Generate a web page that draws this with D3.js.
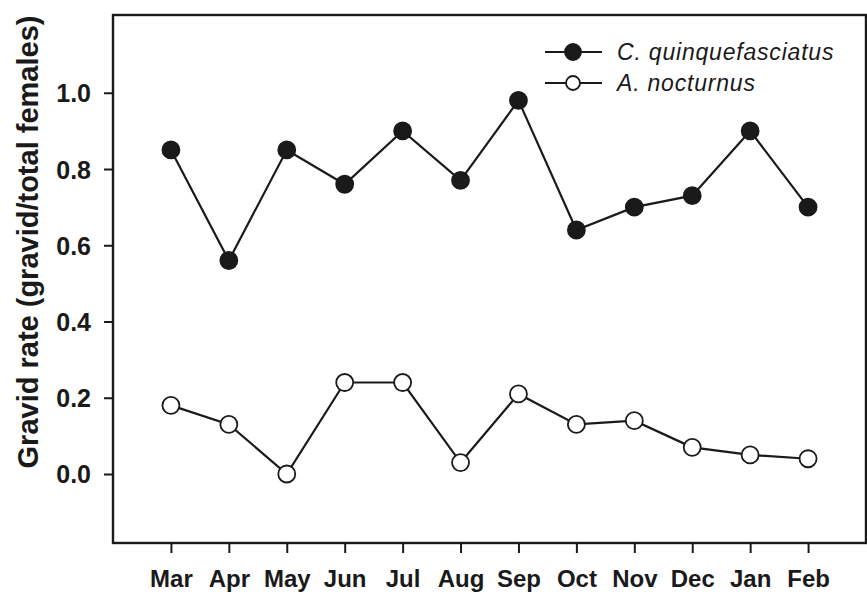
<!DOCTYPE html>
<html>
<head>
<meta charset="utf-8">
<script src="https://cdn.jsdelivr.net/npm/d3@7"></script>
<style>
  body { margin: 0; background: #fff; }
  text { font-family: Arial, "Liberation Sans", sans-serif; fill: #1a1a1a; }
</style>
</head>
<body>
<div id="vis"></div>
<script>
// Data
const MONTHS = ["Mar", "Apr", "May", "Jun", "Jul", "Aug", "Sep", "Oct", "Nov", "Dec", "Jan", "Feb"];
const CULEX = [0.85, 0.56, 0.85, 0.76, 0.90, 0.77, 0.98, 0.64, 0.70, 0.73, 0.90, 0.70];
const ANOPH = [0.18, 0.13, 0.00, 0.24, 0.24, 0.03, 0.21, 0.13, 0.14, 0.07, 0.05, 0.04];
const Y_TICKS = [0.0, 0.2, 0.4, 0.6, 0.8, 1.0];
const SERIES_NAMES = ["C. quinquefasciatus", "A. nocturnus"];

const FRAME_WIDTH = 867;
const FRAME_HEIGHT = 597;
const MARGINS = {left: 113, right: 1, top: 15, bottom: 54};
const VIS_WIDTH = FRAME_WIDTH - MARGINS.left - MARGINS.right;
const VIS_HEIGHT = FRAME_HEIGHT - MARGINS.top - MARGINS.bottom;
const INK = "#1a1a1a";

const svg = d3.select("#vis").append("svg")
  .attr("width", FRAME_WIDTH)
  .attr("height", FRAME_HEIGHT);

const g = svg.append("g")
  .attr("transform", "translate(" + MARGINS.left + "," + MARGINS.top + ")");

// Scales: one month step of padding at each side
const X_SCALE = d3.scaleLinear().domain([-1, MONTHS.length]).range([0, VIS_WIDTH]);
const Y_SCALE = d3.scaleLinear().domain([-0.181, 1.204]).range([VIS_HEIGHT, 0]);

// Frame
g.append("rect")
  .attr("width", VIS_WIDTH)
  .attr("height", VIS_HEIGHT)
  .attr("fill", "none")
  .attr("stroke", INK)
  .attr("stroke-width", 2.4);

// Y axis
const yAxis = g.append("g")
  .call(d3.axisLeft(Y_SCALE).tickValues(Y_TICKS).tickFormat(d3.format(".1f")).tickSize(9).tickPadding(13));
yAxis.select(".domain").remove();
yAxis.selectAll("line").attr("stroke", INK).attr("stroke-width", 2);
yAxis.selectAll("text")
  .attr("font-size", "25px")
  .attr("font-weight", "bold")
  .attr("fill", INK)
  .attr("dy", "0.36em")
  .attr("font-family", "Arial, 'Liberation Sans', sans-serif");

// X axis
const xAxis = g.append("g")
  .attr("transform", "translate(0," + VIS_HEIGHT + ")")
  .call(d3.axisBottom(X_SCALE).tickValues(d3.range(MONTHS.length)).tickFormat((i) => MONTHS[i]).tickSize(10).tickPadding(17));
xAxis.select(".domain").remove();
xAxis.selectAll("line").attr("stroke", INK).attr("stroke-width", 2);
xAxis.selectAll("text")
  .attr("font-size", "24px")
  .attr("font-weight", "bold")
  .attr("fill", INK)
  .attr("font-family", "Arial, 'Liberation Sans', sans-serif");

// Y axis title
svg.append("text")
  .attr("transform", "translate(28," + 242 + ") rotate(-90)")
  .attr("text-anchor", "middle")
  .attr("dy", "0.36em")
  .attr("font-size", "29px")
  .attr("font-weight", "bold")
  .text("Gravid rate (gravid/total females)");

const line = d3.line()
  .x((d, i) => X_SCALE(i))
  .y((d) => Y_SCALE(d));

function drawSeries(values, fill) {
  g.append("path")
    .datum(values)
    .attr("d", line)
    .attr("fill", "none")
    .attr("stroke", INK)
    .attr("stroke-width", 2.2);
  g.append("g").selectAll("circle")
    .data(values)
    .enter()
    .append("circle")
    .attr("cx", (d, i) => X_SCALE(i))
    .attr("cy", (d) => Y_SCALE(d))
    .attr("r", 8.5)
    .attr("fill", fill)
    .attr("stroke", INK)
    .attr("stroke-width", 1.8);
}

drawSeries(CULEX, INK);
drawSeries(ANOPH, "#fff");

// Legend
const legend = svg.append("g").attr("transform", "translate(545,52)");
SERIES_NAMES.forEach((name, i) => {
  const row = legend.append("g").attr("transform", "translate(0," + (i * 31) + ")");
  row.append("line")
    .attr("x1", 0).attr("x2", 57)
    .attr("stroke", INK).attr("stroke-width", 2);
  row.append("circle")
    .attr("cx", 28).attr("r", i === 0 ? 8 : 7)
    .attr("fill", i === 0 ? INK : "#fff")
    .attr("stroke", INK).attr("stroke-width", 1.8);
  row.append("text")
    .attr("x", 72).attr("y", 8)
    .attr("font-size", "23px")
    .attr("letter-spacing", "0.8px")
    .attr("font-style", "italic")
    .text(name);
});
</script>
</body>
</html>
